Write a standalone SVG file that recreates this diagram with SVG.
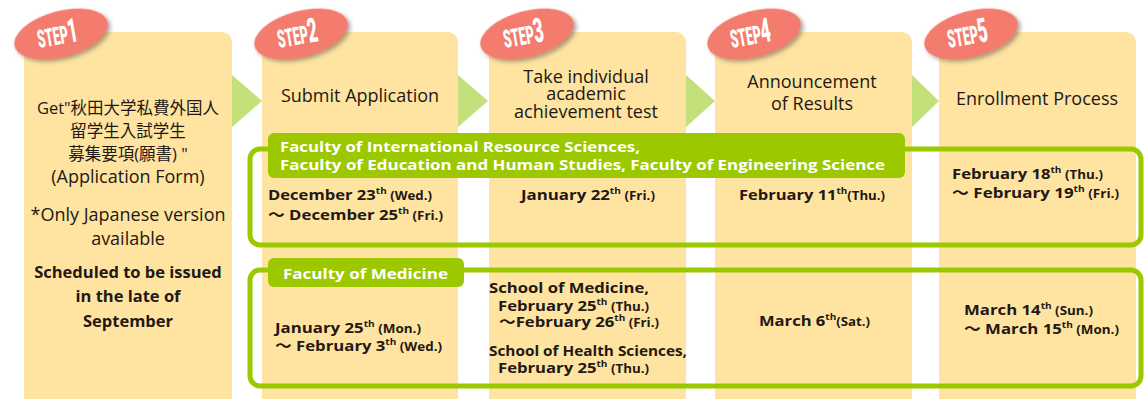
<svg xmlns="http://www.w3.org/2000/svg" width="1145" height="399" viewBox="0 0 1145 399">
<defs>
<filter id="sh" x="-30%" y="-30%" width="160%" height="170%">
<feDropShadow dx="2" dy="3" stdDeviation="2" flood-color="#6b5a50" flood-opacity="0.55"/>
</filter>
<style>
.col{fill:#FEE4A0}
.arr{fill:#C3E07A}
.badge{fill:#F47B6E;filter:url(#sh)}
.stp{font-family:Roboto,"Liberation Sans",sans-serif;font-weight:900;fill:#fff;font-size:25px}
.num{font-size:34px}
.hd{font-family:"Open Sans","Noto Sans CJK JP",sans-serif;font-size:18px;fill:#231815;text-anchor:middle}
.cj{font-size:16.5px}
.hb{font-family:"Open Sans","Noto Sans CJK JP",sans-serif;font-size:16.5px;font-weight:700;fill:#231815;text-anchor:middle}
.dt{font-family:"Open Sans","Noto Sans CJK JP",sans-serif;font-weight:700;font-size:15px;fill:#231815}
.sm{font-size:12px}
.sup{font-size:9px}
.box{fill:none;stroke:#9CC800;stroke-width:5}
.lbl{fill:#9CC800}
.lt{font-family:"Open Sans",sans-serif;font-weight:700;font-size:15px;fill:#fff}
</style>
</defs>

<g id="step1">
<rect class="col" x="24" y="32" width="208" height="390" rx="10"/>
<g transform="translate(61,34) rotate(-15)"><ellipse class="badge" rx="48" ry="23"/></g>
<g transform="translate(61,34) rotate(-10) scale(0.5,1)"><text class="stp" x="-48" y="10">STEP<tspan class="num">1</tspan></text></g>
<text class="hd cj" x="128" y="114">Get"秋田大学私費外国人</text>
<text class="hd cj" x="128" y="137">留学生入試学生</text>
<text class="hd cj" x="128" y="160">募集要項(願書) "</text>
<text class="hd" x="128" y="183">(Application Form)</text>
<text class="hd" x="128" y="221">*Only Japanese version</text>
<text class="hd" x="128" y="245">available</text>
<text class="hb" x="128" y="278">Scheduled to be issued</text>
<text class="hb" x="128" y="302">in the late of</text>
<text class="hb" x="128" y="327">September</text>
</g>

<g id="step2">
<rect class="col" x="262" y="32" width="196" height="390" rx="10"/>
<g transform="translate(301,34) rotate(-15)"><ellipse class="badge" rx="48" ry="23"/></g>
<g transform="translate(301,34) rotate(-10) scale(0.5,1)"><text class="stp" x="-48" y="10">STEP<tspan class="num">2</tspan></text></g>
<text class="hd" x="360" y="102">Submit Application</text>
</g>

<g id="step3">
<rect class="col" x="489" y="32" width="197" height="390" rx="10"/>
<g transform="translate(527,34) rotate(-15)"><ellipse class="badge" rx="48" ry="23"/></g>
<g transform="translate(527,34) rotate(-10) scale(0.5,1)"><text class="stp" x="-48" y="10">STEP<tspan class="num">3</tspan></text></g>
<text class="hd" x="586" y="83">Take individual</text>
<text class="hd" x="586" y="100">academic</text>
<text class="hd" x="586" y="118">achievement test</text>
</g>

<g id="step4">
<rect class="col" x="715" y="32" width="197" height="390" rx="10"/>
<g transform="translate(754,34) rotate(-15)"><ellipse class="badge" rx="48" ry="23"/></g>
<g transform="translate(754,34) rotate(-10) scale(0.5,1)"><text class="stp" x="-48" y="10">STEP<tspan class="num">4</tspan></text></g>
<text class="hd" x="812" y="88">Announcement</text>
<text class="hd" x="812" y="110">of Results</text>
</g>

<g id="step5">
<rect class="col" x="939" y="32" width="197" height="390" rx="10"/>
<g transform="translate(971,34) rotate(-15)"><ellipse class="badge" rx="48" ry="23"/></g>
<g transform="translate(971,34) rotate(-10) scale(0.5,1)"><text class="stp" x="-48" y="10">STEP<tspan class="num">5</tspan></text></g>
<text class="hd" x="1037" y="105">Enrollment Process</text>
</g>

<g id="connectors">
<polygon class="arr" points="232,75 262,101 232,127"/>
<polygon class="arr" points="458,75 488,101 458,127"/>
<polygon class="arr" points="686,75 715,101 686,127"/>
<polygon class="arr" points="912,75 939,101 912,127"/>
</g>

<g id="group1">
<rect class="box" x="250" y="149" width="891" height="96" rx="10"/>
<rect class="lbl" x="268" y="133" width="637" height="45" rx="6"/>
<text class="lt" x="280" y="152" textLength="360" lengthAdjust="spacingAndGlyphs">Faculty of International Resource Sciences,</text>
<text class="lt" x="280" y="170" textLength="605" lengthAdjust="spacingAndGlyphs">Faculty of Education and Human Studies, Faculty of Engineering Science</text>
<text class="dt" x="268" y="200" textLength="164" lengthAdjust="spacingAndGlyphs">December 23<tspan class="sup" dy="-6">th</tspan><tspan class="sm" dy="6"> (Wed.)</tspan></text>
<text class="dt" x="268" y="220" textLength="175" lengthAdjust="spacingAndGlyphs">～ December 25<tspan class="sup" dy="-6">th</tspan><tspan class="sm" dy="6"> (Fri.)</tspan></text>
<text class="dt" x="521" y="200" textLength="134" lengthAdjust="spacingAndGlyphs">January 22<tspan class="sup" dy="-6">th</tspan><tspan class="sm" dy="6"> (Fri.)</tspan></text>
<text class="dt" x="739" y="200" textLength="146" lengthAdjust="spacingAndGlyphs">February 11<tspan class="sup" dy="-6">th</tspan><tspan class="sm" dy="6">(Thu.)</tspan></text>
<text class="dt" x="952" y="179" textLength="151" lengthAdjust="spacingAndGlyphs">February 18<tspan class="sup" dy="-6">th</tspan><tspan class="sm" dy="6"> (Thu.)</tspan></text>
<text class="dt" x="952" y="198" textLength="167" lengthAdjust="spacingAndGlyphs">～ February 19<tspan class="sup" dy="-6">th</tspan><tspan class="sm" dy="6"> (Fri.)</tspan></text>
</g>

<g id="group2">
<rect class="box" x="250" y="270" width="891" height="116" rx="10"/>
<rect class="lbl" x="268" y="258" width="196" height="29" rx="6"/>
<text class="lt" x="283" y="279" textLength="165" lengthAdjust="spacingAndGlyphs">Faculty of Medicine</text>
<text class="dt" x="275" y="333" textLength="146" lengthAdjust="spacingAndGlyphs">January 25<tspan class="sup" dy="-6">th</tspan><tspan class="sm" dy="6"> (Mon.)</tspan></text>
<text class="dt" x="275" y="351" textLength="167" lengthAdjust="spacingAndGlyphs">～ February 3<tspan class="sup" dy="-6">th</tspan><tspan class="sm" dy="6"> (Wed.)</tspan></text>
<text class="dt" x="489" y="293" textLength="160" lengthAdjust="spacingAndGlyphs">School of Medicine,</text>
<text class="dt" x="498" y="311" textLength="151" lengthAdjust="spacingAndGlyphs">February 25<tspan class="sup" dy="-6">th</tspan><tspan class="sm" dy="6"> (Thu.)</tspan></text>
<text class="dt" x="499" y="327" textLength="160" lengthAdjust="spacingAndGlyphs">～February 26<tspan class="sup" dy="-6">th</tspan><tspan class="sm" dy="6"> (Fri.)</tspan></text>
<text class="dt" x="489" y="356" textLength="198" lengthAdjust="spacingAndGlyphs">School of Health Sciences,</text>
<text class="dt" x="498" y="373" textLength="151" lengthAdjust="spacingAndGlyphs">February 25<tspan class="sup" dy="-6">th</tspan><tspan class="sm" dy="6"> (Thu.)</tspan></text>
<text class="dt" x="759" y="326" textLength="111" lengthAdjust="spacingAndGlyphs">March 6<tspan class="sup" dy="-6">th</tspan><tspan class="sm" dy="6">(Sat.)</tspan></text>
<text class="dt" x="964" y="315" textLength="129" lengthAdjust="spacingAndGlyphs">March 14<tspan class="sup" dy="-6">th</tspan><tspan class="sm" dy="6"> (Sun.)</tspan></text>
<text class="dt" x="964" y="334" textLength="155" lengthAdjust="spacingAndGlyphs">～ March 15<tspan class="sup" dy="-6">th</tspan><tspan class="sm" dy="6"> (Mon.)</tspan></text>
</g>
</svg>
